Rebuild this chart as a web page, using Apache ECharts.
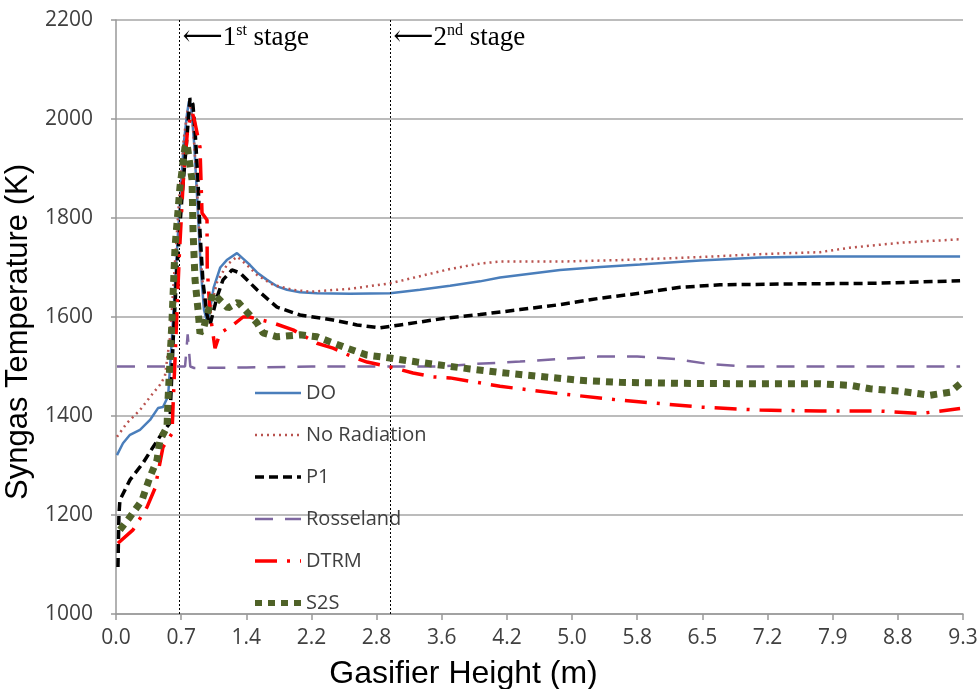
<!DOCTYPE html>
<html><head><meta charset="utf-8">
<script src="https://cdn.jsdelivr.net/npm/echarts@6/dist/echarts.min.js"></script>
<style>html,body{margin:0;padding:0;background:#fff}#c{width:980px;height:689px}</style>
</head><body><div id="c"></div>
<script>
// x positions are in axis-tick units (0 = first label, 13 = last label)
const xTickLabels = ['0.0','0.7','1.4','2.2','2.8','3.6','4.2','5.0','5.8','6.5','7.2','7.9','8.8','9.3'];
const yMin = 1000, yMax = 2200, yStep = 200;
const stagePositions = [0.975, 4.21];
const stageOrdinals = [['1','st'], ['2','nd']];
const stageLabelTemp = 2164;

const seriesNames = ['DO','No Radiation','P1','Rosseland','DTRM','S2S'];

const doPts = [[0.015,1321],[0.107,1345],[0.215,1362],[0.368,1372],[0.522,1392],[0.645,1416],[0.721,1418],[0.80,1440],[0.86,1560],[0.92,1700],[0.98,1830],[1.04,1950],[1.09,2010],[1.12,2036],[1.15,2030],[1.20,1950],[1.25,1830],[1.30,1700],[1.35,1615],[1.40,1590],[1.44,1612],[1.50,1660],[1.60,1700],[1.70,1715],[1.857,1729],[1.95,1718],[2.057,1705],[2.164,1690],[2.318,1675],[2.471,1662],[2.625,1655],[2.824,1650],[3.085,1648],[3.592,1647],[4.206,1648],[4.666,1655],[5.127,1663],[5.587,1672],[5.894,1680],[6.508,1690],[6.815,1695],[7.429,1701],[8.043,1706],[8.964,1714],[9.885,1720],[10.806,1722],[12.034,1722],[12.955,1722]];

const noRadPts = [[0.015,1358],[0.169,1386],[0.368,1412],[0.568,1446],[0.675,1463],[0.75,1480],[0.83,1560],[0.90,1700],[0.97,1840],[1.04,1960],[1.10,2020],[1.14,2030],[1.18,1990],[1.24,1870],[1.30,1720],[1.36,1625],[1.41,1600],[1.46,1622],[1.55,1670],[1.70,1705],[1.857,1722],[2.011,1705],[2.164,1685],[2.41,1665],[2.717,1655],[2.978,1651],[3.592,1657],[4.206,1668],[4.62,1681],[5.127,1697],[5.587,1708],[5.894,1712],[6.815,1712],[7.736,1715],[8.964,1721],[9.885,1727],[10.806,1731],[11.266,1740],[12.034,1750],[12.955,1757]];

const p1Pts = [[0.03,1095],[0.045,1200],[0.06,1230],[0.215,1271],[0.414,1305],[0.568,1337],[0.706,1365],[0.829,1386],[0.84,1432],[0.88,1560],[0.936,1700],[1.013,1843],[1.09,1965],[1.136,2042],[1.18,2030],[1.213,1977],[1.259,1875],[1.289,1772],[1.335,1671],[1.397,1604],[1.443,1584],[1.55,1640],[1.642,1675],[1.78,1695],[1.903,1689],[2.164,1655],[2.471,1620],[2.824,1604],[3.331,1594],[3.699,1584],[4.052,1578],[4.359,1584],[4.666,1590],[5.081,1598],[5.587,1605],[6.201,1615],[6.815,1625],[7.429,1638],[8.043,1648],[8.657,1660],[9.271,1665],[10.499,1667],[11.573,1668],[12.955,1673]];

const rossPts = [[0.015,1500],[0.6,1500],[1.00,1500],[1.06,1500],[1.10,1565],[1.14,1500],[1.2,1497],[2.0,1498],[3.0,1500],[4.5,1500],[5.0,1500],[5.5,1505],[6.2,1510],[6.8,1515],[7.4,1520],[8.0,1520],[8.6,1515],[9.1,1505],[9.7,1500],[12.955,1500]];

const dtrmPts = [[0.03,1143],[0.261,1170],[0.476,1216],[0.599,1254],[0.721,1337],[0.86,1365],[0.875,1418],[0.92,1560],[0.97,1720],[1.03,1870],[1.10,1980],[1.167,2014],[1.20,2000],[1.289,1943],[1.32,1810],[1.397,1796],[1.40,1701],[1.443,1608],[1.52,1537],[1.596,1567],[1.796,1584],[1.95,1600],[2.05,1600],[2.41,1588],[2.717,1574],[3.085,1547],[3.331,1537],[3.638,1519],[3.853,1509],[4.206,1499],[4.559,1487],[4.866,1479],[5.127,1477],[5.894,1460],[6.815,1445],[7.736,1432],[8.964,1418],[9.885,1412],[10.806,1410],[11.727,1410],[12.341,1405],[12.955,1415]];

const s2sPts = [[0.06,1170],[0.215,1196],[0.399,1230],[0.522,1277],[0.629,1311],[0.675,1351],[0.783,1378],[0.798,1432],[0.86,1594],[0.906,1741],[0.982,1863],[1.059,1943],[1.09,1950],[1.167,1877],[1.182,1776],[1.213,1675],[1.259,1614],[1.289,1567],[1.35,1580],[1.489,1648],[1.719,1618],[1.873,1630],[2.011,1610],[2.164,1588],[2.256,1568],[2.471,1560],[2.824,1564],[3.085,1560],[3.285,1550],[3.546,1537],[3.853,1523],[4.206,1517],[4.62,1509],[4.973,1503],[5.434,1495],[5.894,1488],[6.508,1480],[7.122,1472],[7.736,1468],[8.657,1466],[9.885,1465],[10.806,1465],[11.266,1462],[11.573,1455],[12.034,1450],[12.494,1442],[12.801,1448],[12.955,1465]];

const seriesData = [doPts, noRadPts, p1Pts, rossPts, dtrmPts, s2sPts];
const seriesStyles = [
  {color:'#4A7EBB', width:2.5, type:'solid'},
  {color:'#B9534F', width:2.5, type:[2,4]},
  {color:'#000000', width:3.5, type:[9,5]},
  {color:'#7E67A0', width:2.5, type:[18,12]},
  {color:'#FF0000', width:3.5, type:[22,10,3,10]},
  {color:'#4F6228', width:7, type:[7,6]}
];

const chart = echarts.init(document.getElementById('c'));
const labelFont = 'Open Sans';

const series = seriesNames.map((n,i)=>({
  name:n, type:'line', data:seriesData[i], symbol:'none', showSymbol:false, smooth:false,
  color: seriesStyles[i].color,
  lineStyle:{color:seriesStyles[i].color, width:seriesStyles[i].width, type:seriesStyles[i].type},
  z: 3+i, animation:false
}));

series.unshift({
  name:'stages', type:'line', data:[], symbol:'none', animation:false, z:2,
  markLine:{
    silent:true, symbol:'none', animation:false,
    lineStyle:{color:'#000', width:1, type:[2,2]},
    label:{show:false},
    data: stagePositions.map(p=>({xAxis:p}))
  },
  markPoint:{
    silent:true, symbol:'circle', symbolSize:0, animation:false,
    data: stagePositions.map((p,i)=>({
      coord:[p, stageLabelTemp],
      label:{
        show:true, position:'right', distance:3,
        formatter: '{arr|\u27F5}{n|' + stageOrdinals[i][0] + '}{sup|' + stageOrdinals[i][1] + '}{n| stage}',
        rich:{
          arr:{fontFamily:'DejaVu Serif', fontSize:28, color:'#000', lineHeight:30},
          n:{fontFamily:'Liberation Serif', fontSize:27, color:'#000', lineHeight:30},
          sup:{fontFamily:'Liberation Serif', fontSize:16, color:'#000', verticalAlign:'top', lineHeight:16}
        }
      }
    }))
  }
});

chart.setOption({
  animation:false,
  backgroundColor:'#fff',
  grid:{left:116, right:17, top:20, bottom:75, containLabel:false, outerBoundsMode:'none'},
  legend:{
    orient:'vertical', left:252, top:383, padding:0, itemGap:22, itemWidth:46, itemHeight:14,
    textStyle:{fontFamily:labelFont, fontSize:20, color:'#404040'},
    itemStyle:{opacity:0},
    data: seriesNames.map((n,i)=>({name:n, itemStyle:{opacity:0, borderWidth:0}, lineStyle:{width:Math.min(seriesStyles[i].width,6)}}))
  },
  xAxis:{
    type:'value', min:0, max:xTickLabels.length-1, interval:1,
    name:'Gasifier Height (m)', nameLocation:'middle', nameGap:44,
    nameTextStyle:{fontFamily:'Liberation Sans', fontSize:32, color:'#000', padding:[0,152,0,0]},
    axisLine:{show:true, onZero:false, lineStyle:{color:'#999', width:1.5}},
    axisTick:{show:true, length:6, lineStyle:{color:'#999', width:1.5}},
    axisLabel:{fontFamily:labelFont, fontSize:21, color:'#404040', margin:14,
      formatter:v=>xTickLabels[Math.round(v)] ?? ''},
    splitLine:{show:false}
  },
  yAxis:{
    type:'value', min:yMin, max:yMax, interval:yStep,
    name:'Syngas Temperature (K)', nameLocation:'middle', nameGap:75, nameRotate:90,
    nameTextStyle:{fontFamily:'Liberation Sans', fontSize:31, color:'#000', padding:[0,30,0,0]},
    axisLine:{show:true, lineStyle:{color:'#999', width:1.5}},
    axisTick:{show:true, length:5, lineStyle:{color:'#999', width:1.5}},
    axisLabel:{fontFamily:labelFont, fontSize:21, color:'#404040', margin:23, formatter:v=>String(v)},
    splitLine:{show:true, lineStyle:{color:'#A6A6A6', width:1.5}}
  },
  series: series
});
</script>
</body></html>
